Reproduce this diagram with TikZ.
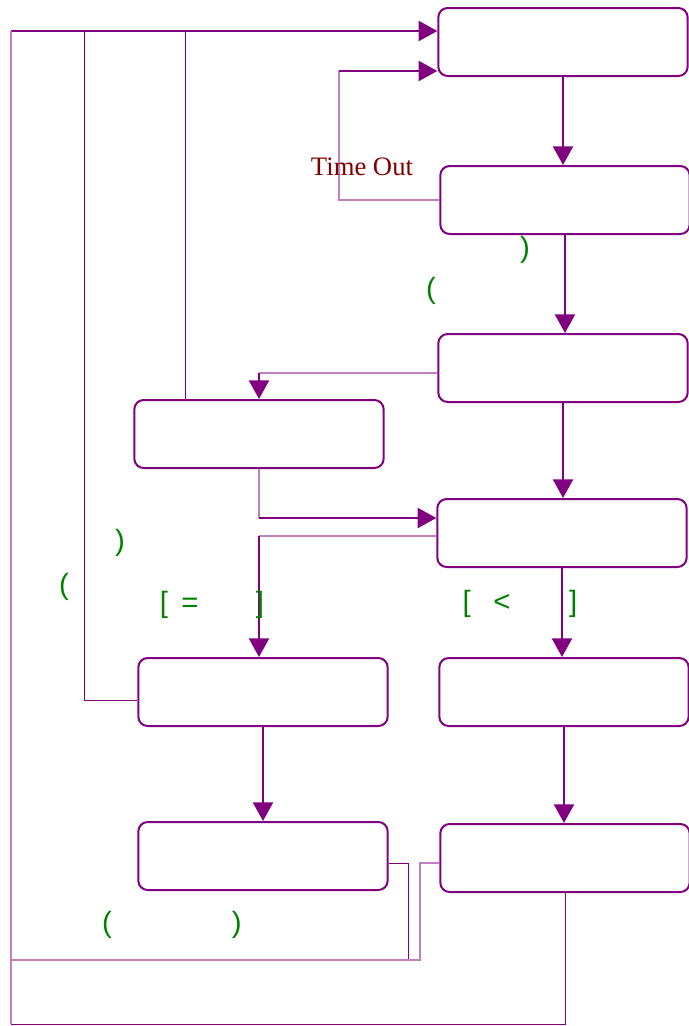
\documentclass[tikz,border=0pt]{standalone}
\usepackage{fontspec}
\setmainfont{Liberation Serif}
\newfontfamily\grfont{Liberation Sans}
\usetikzlibrary{arrows.meta}
\definecolor{lila}{HTML}{800080}
\definecolor{ljuslila}{HTML}{C080C0}
\definecolor{morkrod}{HTML}{800000}
\definecolor{gron}{HTML}{008000}

\begin{document}
\begin{tikzpicture}[x=0.75pt,y=-0.75pt,
    ruta/.style={draw=lila,line width=1.5pt,rounded corners=7pt,minimum width=187pt,minimum height=51pt},
    pil/.style={lila,line width=1.7pt,-{Triangle[length=14pt,width=15pt]}},
    tunn/.style={lila,line width=0.75pt},
    ljus/.style={ljuslila,line width=0.9pt},
    gr/.style={text=gron,font=\grfont\fontsize{22}{22}\selectfont}]
      \useasboundingbox (0,0) rectangle (689,1026);
      % Rutor
      \foreach \namn/\x/\y in {b1/563/42,b2/565/200,b3/563/368,b4/259/434,b5/562/533,b6/263/692,b7/564/692,b8/263/856,b9/565/858}
        \node[ruta] (\namn) at (\x,\y) {};
      % Pilar nedat
      \draw[pil] (b1.south) -- (b2.north -| b1.south);
      \draw[pil] (b2.south) -- (b3.north -| b2.south);
      \draw[pil] (b3.south) -- (b5.north -| b3.south);
      \draw[pil] (b5.south) -- (b7.north -| b5.south);
      \draw[pil] (b7.south) -- (b9.north -| b7.south);
      \draw[pil] (b6.south) -- (b8.north -| b6.south);
      % Time Out
      \coordinate (t1) at (339,71);
      \draw[ljus] (b2.west) -| (t1);
      \draw[pil] (t1) -- (b1.west |- t1);
      \node[text=morkrod,font=\fontsize{20}{20}\selectfont] (to) at (362,167) {Time Out};
      % Vanster ruta
      \coordinate (k1) at (b4.north |- 0,373);
      \draw[ljus] (b3.west |- k1) -- (k1);
      \draw[pil] (k1) -- (b4.north);
      \coordinate (k2) at (259,518);
      \draw[ljus] (b4.south) -- (k2);
      \draw[pil] (k2) -- (b5.west |- k2);
      \coordinate (k3) at (259,536);
      \draw[ljus] (b5.west |- k3) -- (k3);
      \draw[pil] (k3) -- (b6.north -| k3);
      % Aterkoppling
      \coordinate (v1) at (11,31);
      \coordinate (v2) at (84,31);
      \coordinate (v3) at (185,31);
      \coordinate (ned) at (11,1024);
      \draw[pil] (v1) -- (b1.west |- v1);
      \draw[ljus] (v1) -- (ned);
      \draw[tunn] (b9.south) -- (b9.south |- ned) -- (ned);
      \coordinate (k6) at (0,700);
      \draw[tunn] (v2) |- (b6.west |- k6);
      \draw[tunn] (v3) -- (b4.north -| v3);
      \coordinate (k4) at (408,960);
      \coordinate (k5) at (420,960);
      \coordinate (k7) at (0,863);
      \draw[tunn] (b8.east |- k7) -| (k4);
      \draw[ljus] (b9.west |- k7) -| (k5) -- (v1 |- k5);
      % Gront
      \node[gr] (p1) at (525,250) {)};
      \node[gr] (p2) at (431,291) {(};
      \node[gr] (p3) at (120,543) {)};
      \node[gr] (p4) at (64,587) {(};
      \node[gr] (l1) at (212,605) {[\hspace{10pt}=\hspace{43pt}]};
      \node[gr] (l2) at (520,604) {[\hspace{17pt}<\hspace{44pt}]};
      \node[gr] (l3) at (172,925) {(\hspace{90pt})};
    \end{tikzpicture}
\end{document}
